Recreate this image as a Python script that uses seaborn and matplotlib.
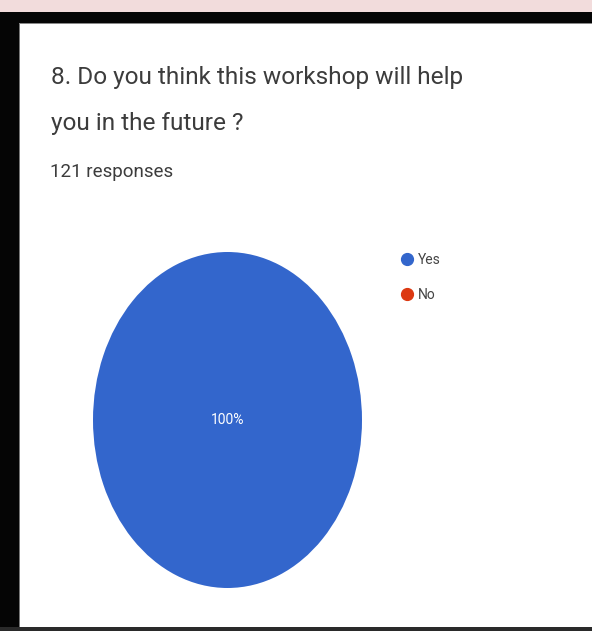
import matplotlib
matplotlib.use("Agg")
import matplotlib.pyplot as plt
from matplotlib.patches import Rectangle
from matplotlib.lines import Line2D
import seaborn as sns

title_lines = ["8. Do you think this workshop will help", "you in the future ?"]
subtitle = "121 responses"
categories = ["Yes", "No"]
counts = [121, 0]
colors = ["#3366cc", "#dc3912"]
center_label = "100%"

sns.set_theme(style="white")
plt.rcParams["font.family"] = ["Roboto", "DejaVu Sans"]

W, H = 592, 631
fig = plt.figure(figsize=(W / 100, H / 100), dpi=100)
fig.patch.set_facecolor("white")

def px(x, y, w, h):
    return (x / W, 1 - (y + h) / H, w / W, h / H)

# frame decorations
for (x, y, w, h, c) in [
    (0, 0, W, 12, "#f2dcdc"),
    (0, 12, W, 11, "#050505"),
    (0, 23, W, 1, "#888888"),
    (0, 12, 19, H - 12, "#050505"),
    (19, 24, 1, H - 24, "#777777"),
    (0, 627, W, 4, "#2a2a2a"),
]:
    fig.patches.append(Rectangle((x / W, 1 - (y + h) / H), w / W, h / H,
                                 transform=fig.transFigure, facecolor=c,
                                 edgecolor="none", zorder=5))

txt = "#3c3c3c"
fig.text(51 / W, 1 - 84 / H, title_lines[0], fontsize=17.6, color=txt)
fig.text(51 / W, 1 - 130 / H, title_lines[1], fontsize=17.6, color=txt)
fig.text(50 / W, 1 - 177 / H, subtitle, fontsize=13.5, color=txt)

ax = fig.add_axes(px(93, 252, 269, 336))
ax.pie(counts, colors=colors, startangle=90, counterclock=False,
       wedgeprops=dict(linewidth=0))
ax.set_aspect("auto")
ax.set_xlim(-1, 1)
ax.set_ylim(-1, 1)
ax.axis("off")
ax.text(0.0, 0.0, center_label, color="white", fontsize=10,
        ha="center", va="center")

handles = [Line2D([0], [0], marker="o", linestyle="none", markersize=8.5,
                  markerfacecolor=c, markeredgecolor=c) for c in colors]
fig.legend(handles, categories, loc="upper left",
           bbox_to_anchor=(400 / W, 1 - 253 / H), frameon=False,
           fontsize=10, labelcolor="#444444", handletextpad=0.3,
           handlelength=1.0, labelspacing=1.5, borderpad=0, borderaxespad=0)

fig.savefig("out.png", dpi=100)
